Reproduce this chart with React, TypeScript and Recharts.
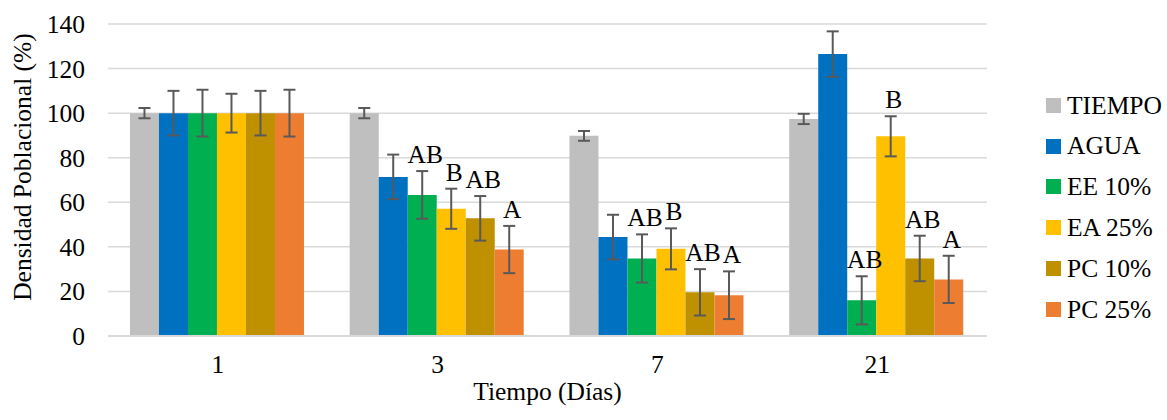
import React from 'react';
import { BarChart, Bar, CartesianGrid, XAxis, YAxis, ErrorBar, LabelList } from 'recharts';

const categories = ['1', '3', '7', '21'];

const tiempo = [100, 100, 89.8, 97.4];
const tiempoErr = [2.3, 2.3, 2.2, 2.3];
const agua = [100, 71.4, 44.4, 126.5];
const aguaErr = [10, 10, 10, 10.2];
const ee10 = [100, 63.3, 34.8, 16];
const ee10Err = [10.5, 10.7, 10.8, 10.8];
const ea25 = [100, 57.1, 39.1, 89.6];
const ea25Err = [8.7, 9, 9.2, 9];
const pc10 = [100, 52.8, 19.6, 34.8];
const pc10Err = [10, 10, 10.4, 10.2];
const pc25 = [100, 38.8, 18.3, 25.4];
const pc25Err = [10.5, 10.6, 10.7, 10.6];

const ee10Letters = ['', 'AB', 'AB', 'AB'];
const ea25Letters = ['', 'B', 'B', 'B'];
const pc10Letters = ['', 'AB', 'AB', 'AB'];
const pc25Letters = ['', 'A', 'A', 'A'];

const yTicks = [0, 20, 40, 60, 80, 100, 120, 140];

const FONT = '"Liberation Serif", "Times New Roman", serif';

const series = [
    { key: 'tiempo', name: 'TIEMPO', color: '#BFBFBF', values: tiempo, errs: tiempoErr, letters: null },
    { key: 'agua', name: 'AGUA', color: '#0070C0', values: agua, errs: aguaErr, letters: null },
    { key: 'ee10', name: 'EE 10%', color: '#00B050', values: ee10, errs: ee10Err, letters: ee10Letters },
    { key: 'ea25', name: 'EA 25%', color: '#FFC000', values: ea25, errs: ea25Err, letters: ea25Letters },
    { key: 'pc10', name: 'PC 10%', color: '#BF9000', values: pc10, errs: pc10Err, letters: pc10Letters },
    { key: 'pc25', name: 'PC 25%', color: '#ED7D31', values: pc25, errs: pc25Err, letters: pc25Letters },
];

const data = categories.map((day, i) => {
    const row: Record<string, string | number> = { day };
    series.forEach(s => {
        row[s.key] = s.values[i];
        row[s.key + 'Err'] = s.errs[i];
        if (s.letters) row[s.key + 'Lbl'] = s.letters[i];
    });
    return row;
});

// letter sits just above the top of the error bar
const letterLabel = (key: string) => (props: any) => {
    const { x, y, width, height, value, index } = props;
    if (!value) return null;
    const v = Number(data[index][key]);
    const err = Number(data[index][key + 'Err']);
    const errTop = Number(y) - (Number(height) * err) / v;
    return (
        <text
            x={Number(x) + Number(width) / 2 + 3}
            y={errTop - 8}
            textAnchor="middle"
            fontFamily={FONT}
            fontSize={25.5}
            fill="#000"
        >
            {value}
        </text>
    );
};

const LegendBox = () => (
    <div style={{ position: 'absolute', left: 1046, top: 85, fontFamily: FONT, fontSize: 25.5, color: '#000' }}>
        {series.map(s => (
            <div key={s.key} style={{ display: 'flex', alignItems: 'center', height: 40.8 }}>
                <span style={{ width: 15, height: 15, background: s.color, marginRight: 6, display: 'inline-block' }} />
                <span style={{ lineHeight: 1, whiteSpace: 'nowrap' }}>{s.name}</span>
            </div>
        ))}
    </div>
);

export default function App() {
    return (
        <div style={{ position: 'absolute', left: 0, top: 0, width: 1167, height: 420, background: '#fff' }}>
            <BarChart
                width={1167}
                height={420}
                data={data}
                margin={{ top: 24, right: 180, left: 48, bottom: 44 }}
                barCategoryGap="10%"
                barGap={0}
            >
                <CartesianGrid vertical={false} stroke="#D9D9D9" strokeWidth={1.5} />
                <XAxis
                    dataKey="day"
                    height={40}
                    axisLine={{ stroke: '#D9D9D9', strokeWidth: 2 }}
                    tickLine={false}
                    tickMargin={13}
                    tick={{ fontFamily: FONT, fontSize: 25.5, fill: '#000' }}
                    label={{
                        value: 'Tiempo (Días)',
                        content: (p: any) => (
                            <text
                                x={p.viewBox.x + p.viewBox.width / 2}
                                y={p.viewBox.y + 64}
                                textAnchor="middle"
                                fontFamily={FONT}
                                fontSize={25.5}
                                fill="#000"
                            >
                                Tiempo (Días)
                            </text>
                        ),
                    }}
                />
                <YAxis
                    width={60}
                    domain={[0, 140]}
                    ticks={yTicks}
                    axisLine={false}
                    tickLine={false}
                    tickMargin={17}
                    tick={{ fontFamily: FONT, fontSize: 25.5, fill: '#000' }}
                    label={{
                        value: 'Densidad Poblacional (%)',
                        content: () => (
                            <text
                                x={31}
                                y={167}
                                transform="rotate(-90 31 167)"
                                textAnchor="middle"
                                fontFamily={FONT}
                                fontSize={25.5}
                                fill="#000"
                            >
                                Densidad Poblacional (%)
                            </text>
                        ),
                    }}
                />
                {series.map(s => (
                    <Bar key={s.key} dataKey={s.key} name={s.name} fill={s.color} isAnimationActive={false}>
                        <ErrorBar dataKey={s.key + 'Err'} width={6} strokeWidth={2} stroke="#595959" direction="y" />
                        {s.letters && <LabelList dataKey={s.key + 'Lbl'} content={letterLabel(s.key)} />}
                    </Bar>
                ))}
            </BarChart>
            <LegendBox />
        </div>
    );
}
